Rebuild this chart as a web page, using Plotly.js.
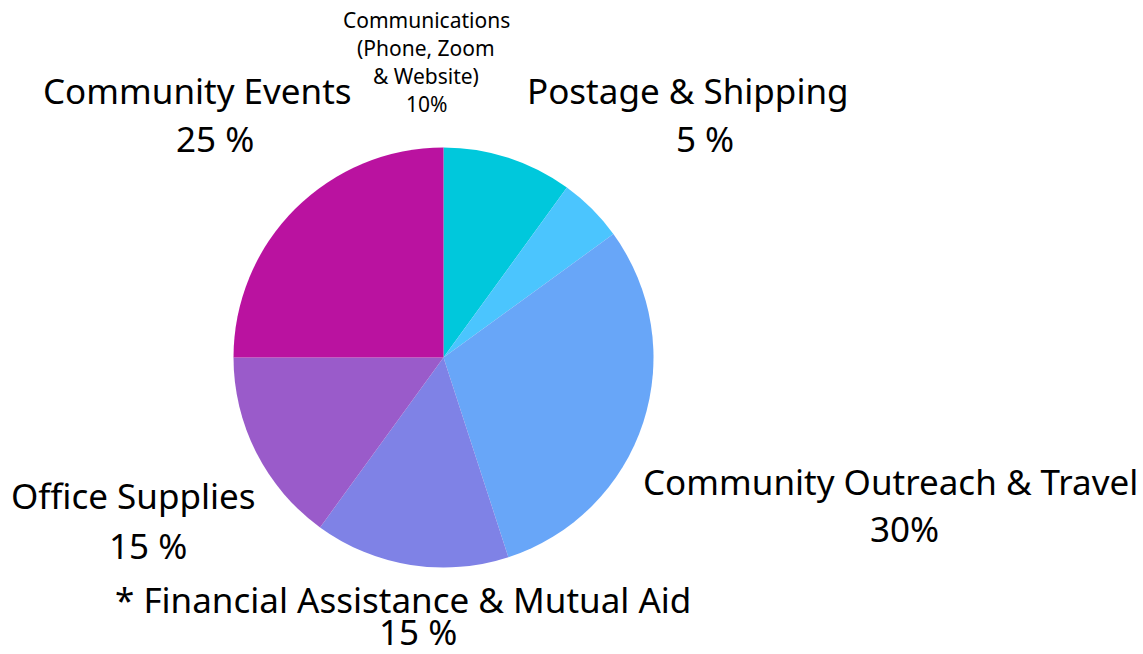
<!DOCTYPE html>
<html>
<head>
<meta charset="utf-8">
<script src="https://cdn.plot.ly/plotly-3.0.1.min.js"></script>
<style>html,body{margin:0;padding:0;background:#fff;}#chart{width:1143px;height:654px;}</style>
</head>
<body>
<div id="chart"></div>
<script>
const categories = ["Communications (Phone, Zoom & Website)", "Postage & Shipping", "Community Outreach & Travel", "* Financial Assistance & Mutual Aid", "Office Supplies", "Community Events"];
const values = [10, 5, 30, 15, 15, 25];
const colors = ["#00C8DC", "#4BC5FE", "#68A6F8", "#7F82E6", "#9A5BCA", "#BA12A0"];
const labelLines = [
  ["Communications", "(Phone, Zoom", "& Website)", "10%"],
  ["Postage & Shipping", "5 %"],
  ["Community Outreach & Travel", "30%"],
  ["* Financial Assistance & Mutual Aid", "15 %"],
  ["Office Supplies", "15 %"],
  ["Community Events", "25 %"]
];

const W = 1143, H = 654;
// label anchor centres in pixels for each line
const anchors = [
  [[426, 20], [426, 48], [426, 76], [426, 104]],
  [[688, 90], [705, 138]],
  [[890, 481], [904, 528]],
  [[403, 599], [418, 631]],
  [[133, 495], [148, 545]],
  [[197, 90], [215, 138]]
];
const sizes = [21, 35, 35, 35, 35, 35];

const annotations = [];
labelLines.forEach((lines, i) => {
  lines.forEach((t, j) => {
    const p = anchors[i][j];
    annotations.push({
      text: t, xref: "paper", yref: "paper",
      x: p[0] / W, y: 1 - p[1] / H,
      xanchor: "center", yanchor: "middle",
      showarrow: false,
      font: {family: "Noto Sans, Open Sans, sans-serif", size: sizes[i], color: "#000"}
    });
  });
});

const cx = 443.5, cy = 357.5, r = 210;
const trace = {
  type: "pie",
  labels: categories,
  values: values,
  sort: false,
  direction: "clockwise",
  rotation: 0,
  textinfo: "none",
  hoverinfo: "label+percent",
  marker: {colors: colors, line: {width: 0}},
  domain: {x: [(cx - r) / W, (cx + r) / W], y: [1 - (cy + r) / H, 1 - (cy - r) / H]}
};

Plotly.newPlot("chart", [trace], {
  width: W, height: H,
  margin: {l: 0, r: 0, t: 0, b: 0},
  showlegend: false,
  paper_bgcolor: "#fff",
  annotations: annotations
}, {displayModeBar: false, staticPlot: true});
</script>
</body>
</html>
